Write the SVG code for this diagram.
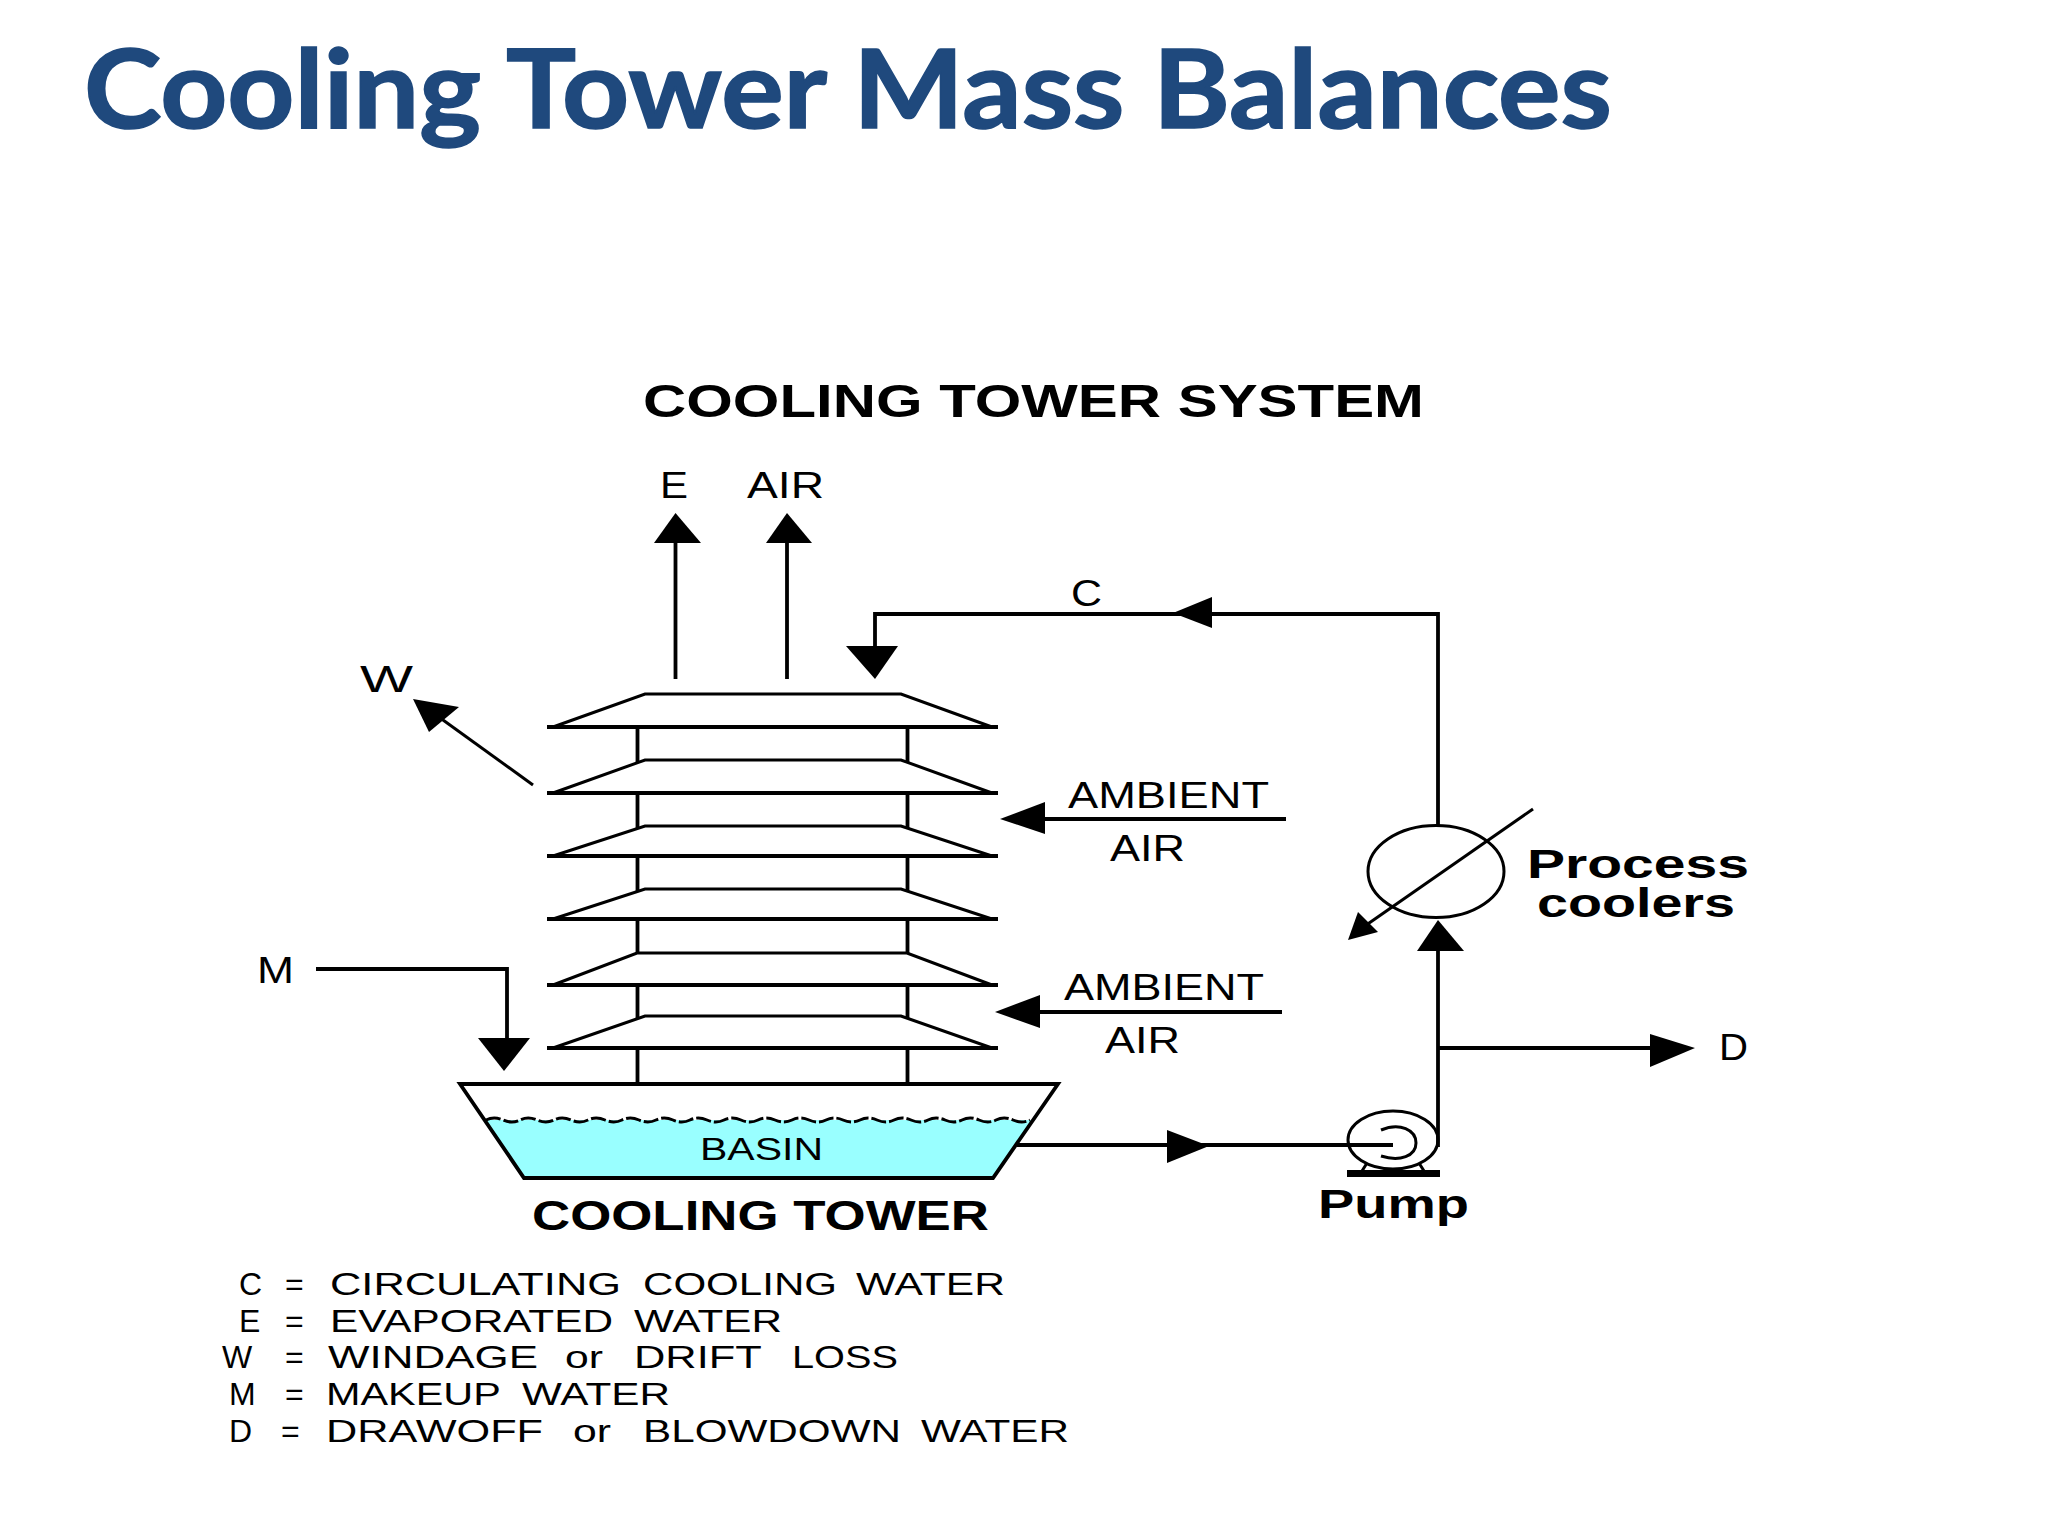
<svg xmlns="http://www.w3.org/2000/svg" width="2048" height="1536" viewBox="0 0 2048 1536">
<defs>
<style>
.ln{fill:none;stroke:#000;stroke-width:3.8}
.thin{fill:none;stroke:#000;stroke-width:3}
.head{fill:#000;stroke:none}
.t{font-family:"Liberation Sans",Arial,sans-serif;fill:#000}
.b{font-weight:700}
.lg{font-size:32px}
.title{font-family:Lato,"Noto Sans",sans-serif;font-weight:700;fill:#1F497D;stroke:#1F497D;stroke-width:1.6}
</style>
</defs>
<rect width="2048" height="1536" fill="#fff"/>
<text class="title" x="84" y="128" font-size="110" textLength="1528" lengthAdjust="spacingAndGlyphs">Cooling Tower Mass Balances</text>
<text class="t b" x="643" y="417" font-size="46" textLength="781" lengthAdjust="spacingAndGlyphs">COOLING TOWER SYSTEM</text>

<g id="tower">
<g id="tier1"><path class="thin" d="M553 727L645 694H901L992 727"/><path class="ln" d="M547 727H998"/></g>
<path class="ln" d="M637.500 727V763M907.500 727V763"/>
<g id="tier2"><path class="thin" d="M553 793L645 760H901L992 793"/><path class="ln" d="M547 793H998"/></g>
<path class="ln" d="M637.500 793V829M907.500 793V829"/>
<g id="tier3"><path class="thin" d="M553 856L645 826H901L992 856"/><path class="ln" d="M547 856H998"/></g>
<path class="ln" d="M637.500 856V892M907.500 856V892"/>
<g id="tier4"><path class="thin" d="M553 919L645 889H901L992 919"/><path class="ln" d="M547 919H998"/></g>
<path class="ln" d="M637.500 919V953M907.500 919V953"/>
<g id="tier5"><path class="thin" d="M553 985L637 953H907L992 985"/><path class="ln" d="M547 985H998"/></g>
<path class="ln" d="M637.500 985V1019M907.500 985V1019"/>
<g id="tier6"><path class="thin" d="M553 1048L645 1016H901L992 1048"/><path class="ln" d="M547 1048H998"/></g>
<path class="ln" d="M637.500 1048V1084M907.500 1048V1084"/>
</g>

<g id="basin">
<path d="M486 1120H1034L993 1178H524Z" fill="#99FFFF"/>
<path class="ln" d="M460 1084H1058L993 1178H524Z"/>
<path class="thin" d="M486 1120q8-4 17 0t17 0t17 0t17 0t17 0t17 0t17 0t17 0t17 0t17 0t17 0t17 0t17 0t17 0t17 0t17 0t17 0t17 0t17 0t17 0t17 0t17 0t17 0t17 0t17 0t17 0t17 0t17 0t17 0t17 0t17 0t17 0" stroke-dasharray="15 3"/>
<text class="t" x="700" y="1160" font-size="31" textLength="123" lengthAdjust="spacingAndGlyphs">BASIN</text>
<text class="t b" x="532" y="1230" font-size="42" textLength="457" lengthAdjust="spacingAndGlyphs">COOLING TOWER</text>
</g>

<g id="connectors">
<path class="ln" d="M675.500 679V540"/><polygon class="head" points="675.500,513 701,543 654,543"/>
<path class="ln" d="M787 679V540"/><polygon class="head" points="787,513 812,543 766,543"/>
<path class="ln" d="M1438 825V614H875V650"/><polygon class="head" points="875,679 846,646 898,646"/>
<polygon class="head" points="1173,613 1212,597 1212,628"/>
<path class="thin" d="M533 785L425 707"/><polygon class="head" points="413,699 459,707 429,732"/>
<path class="ln" d="M316 969H507V1040"/><polygon class="head" points="504,1071 478,1038 530,1038"/>
<path class="ln" d="M1045 819H1286"/><polygon class="head" points="1000,819 1045,802 1045,834"/>
<path class="ln" d="M1040 1012H1282"/><polygon class="head" points="995,1012 1040,995 1040,1028"/>
<path class="ln" d="M1017 1145H1393"/><polygon class="head" points="1209,1146 1167,1130 1167,1163"/>
<path class="ln" d="M1438 1147V950"/><polygon class="head" points="1438,920 1464,951 1417,951"/>
<path class="ln" d="M1438 1048H1660"/><polygon class="head" points="1695,1048 1650,1034 1650,1067"/>
<path class="thin" d="M1533 809L1362 928"/><polygon class="head" points="1348,940 1358,912 1378,932"/>
</g>

<g id="process-coolers">
<ellipse class="thin" cx="1436" cy="871.500" rx="68" ry="46"/>
<text class="t b" x="1527" y="878" font-size="40" textLength="222" lengthAdjust="spacingAndGlyphs">Process</text>
<text class="t b" x="1537" y="917" font-size="40" textLength="198" lengthAdjust="spacingAndGlyphs">coolers</text>
</g>

<g id="pump">
<ellipse class="thin" cx="1393" cy="1140" rx="45" ry="29"/>
<path class="thin" d="M1381 1130C1400 1122 1416 1130 1416 1143C1416 1156 1400 1162 1381 1156"/>
<path class="thin" d="M1367 1163L1362 1171M1419 1163L1424 1171"/>
<rect x="1347" y="1170" width="93" height="7"/>
<text class="t b" x="1318" y="1218" font-size="41" textLength="151" lengthAdjust="spacingAndGlyphs">Pump</text>
</g>

<g id="labels">
<text class="t" x="660" y="498" font-size="36" textLength="28" lengthAdjust="spacingAndGlyphs">E</text>
<text class="t" x="747" y="498" font-size="36" textLength="77" lengthAdjust="spacingAndGlyphs">AIR</text>
<text class="t" x="1071" y="606" font-size="36" textLength="31" lengthAdjust="spacingAndGlyphs">C</text>
<text class="t" x="360" y="692" font-size="36" textLength="53" lengthAdjust="spacingAndGlyphs">W</text>
<text class="t" x="257" y="983" font-size="36" textLength="37" lengthAdjust="spacingAndGlyphs">M</text>
<text class="t" x="1719" y="1060" font-size="36" textLength="29" lengthAdjust="spacingAndGlyphs">D</text>
<text class="t" x="1068" y="808" font-size="36" textLength="201" lengthAdjust="spacingAndGlyphs">AMBIENT</text>
<text class="t" x="1110" y="861" font-size="36" textLength="75" lengthAdjust="spacingAndGlyphs">AIR</text>
<text class="t" x="1064" y="1000" font-size="36" textLength="200" lengthAdjust="spacingAndGlyphs">AMBIENT</text>
<text class="t" x="1105" y="1053" font-size="36" textLength="75" lengthAdjust="spacingAndGlyphs">AIR</text>
</g>

<g id="legend">
<text class="t lg" x="239" y="1295">C <tspan x="285">=</tspan> <tspan x="330" textLength="291" lengthAdjust="spacingAndGlyphs">CIRCULATING</tspan> <tspan x="643" textLength="194" lengthAdjust="spacingAndGlyphs">COOLING</tspan> <tspan x="856" textLength="149" lengthAdjust="spacingAndGlyphs">WATER</tspan></text>
<text class="t lg" x="239" y="1332">E <tspan x="285">=</tspan> <tspan x="330" textLength="283" lengthAdjust="spacingAndGlyphs">EVAPORATED</tspan> <tspan x="634" textLength="148" lengthAdjust="spacingAndGlyphs">WATER</tspan></text>
<text class="t lg" x="222" y="1368">W <tspan x="285">=</tspan> <tspan x="328" textLength="210" lengthAdjust="spacingAndGlyphs">WINDAGE</tspan> <tspan x="565" textLength="38" lengthAdjust="spacingAndGlyphs">or</tspan> <tspan x="634" textLength="127" lengthAdjust="spacingAndGlyphs">DRIFT</tspan> <tspan x="792" textLength="106" lengthAdjust="spacingAndGlyphs">LOSS</tspan></text>
<text class="t lg" x="229" y="1405">M <tspan x="285">=</tspan> <tspan x="326" textLength="174" lengthAdjust="spacingAndGlyphs">MAKEUP</tspan> <tspan x="522" textLength="148" lengthAdjust="spacingAndGlyphs">WATER</tspan></text>
<text class="t lg" x="229" y="1442">D <tspan x="281">=</tspan> <tspan x="326" textLength="217" lengthAdjust="spacingAndGlyphs">DRAWOFF</tspan> <tspan x="573" textLength="38" lengthAdjust="spacingAndGlyphs">or</tspan> <tspan x="643" textLength="258" lengthAdjust="spacingAndGlyphs">BLOWDOWN</tspan> <tspan x="921" textLength="148" lengthAdjust="spacingAndGlyphs">WATER</tspan></text>
</g>
</svg>
